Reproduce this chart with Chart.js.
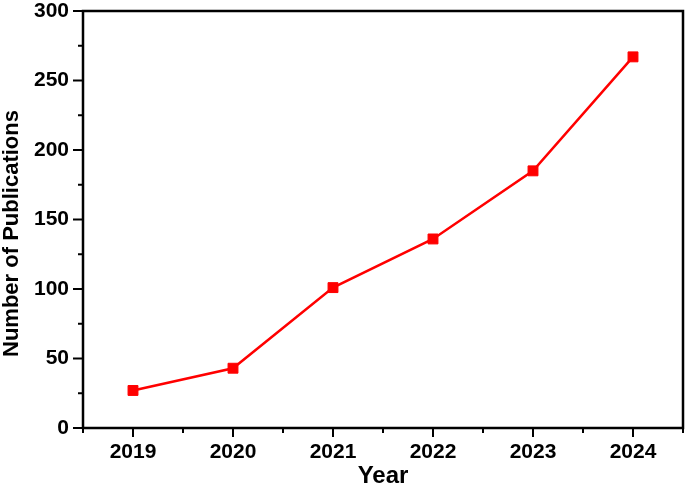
<!DOCTYPE html>
<html>
<head>
<meta charset="utf-8">
<script src="https://cdn.jsdelivr.net/npm/chart.js@4"></script>
<style>
html,body{margin:0;padding:0;background:#fff;}
#wrap{width:685px;height:486px;position:relative;}
</style>
</head>
<body>
<div id="wrap"><canvas id="c" width="685" height="486"></canvas></div>
<script>
const years = [2019, 2020, 2021, 2022, 2023, 2024];
const publications = [27, 43, 101, 136, 185, 267];
const yMajorTicks = [0, 50, 100, 150, 200, 250, 300];
const xTitle = 'Year';
const yTitle = 'Number of Publications';

const FONT = '"Liberation Sans", Arial, Helvetica, sans-serif';

const framePlugin = {
  id: 'frame',
  afterDraw(chart) {
    const ctx = chart.ctx;
    const a = chart.chartArea;
    const xs = chart.scales.x, ys = chart.scales.y;
    ctx.save();
    ctx.strokeStyle = '#000';
    ctx.lineWidth = 2.5;
    ctx.beginPath();
    ctx.rect(a.left, a.top, a.right - a.left, a.bottom - a.top);
    ctx.stroke();
    ctx.lineWidth = 2;
    ys.ticks.forEach(t => {
      const y = ys.getPixelForValue(t.value);
      const len = (t.value % 50 === 0) ? 10 : 5;
      ctx.beginPath();
      ctx.moveTo(a.left, y);
      ctx.lineTo(a.left - len, y);
      ctx.stroke();
    });
    xs.ticks.forEach(t => {
      const x = xs.getPixelForValue(t.value);
      const len = Number.isInteger(t.value) ? 9 : 5;
      ctx.beginPath();
      ctx.moveTo(x, a.bottom);
      ctx.lineTo(x, a.bottom + len);
      ctx.stroke();
    });
    ctx.fillStyle = '#000';
    ctx.font = 'bold 22px ' + FONT;
    ctx.textAlign = 'center';
    ctx.textBaseline = 'alphabetic';
    ctx.translate(17.5, 233.5);
    ctx.rotate(-Math.PI / 2);
    ctx.fillText(yTitle, 0, 0);
    ctx.restore();
  }
};

new Chart(document.getElementById('c'), {
  type: 'line',
  data: {
    datasets: [{
      data: years.map((yr, i) => ({x: yr, y: publications[i]})),
      borderColor: '#ff0000',
      backgroundColor: '#ff0000',
      borderWidth: 2.5,
      pointStyle: 'rect',
      pointRadius: 7,
      pointBorderWidth: 1,
      pointBackgroundColor: '#ff0000',
      pointBorderColor: '#ff0000',
      tension: 0
    }]
  },
  options: {
    responsive: false,
    animation: false,
    devicePixelRatio: 1,
    layout: {autoPadding: false, padding: {top: 11, right: 2, left: 0, bottom: 0}},
    plugins: {legend: {display: false}, tooltip: {enabled: false}},
    scales: {
      x: {
        type: 'linear',
        min: 2018.5,
        max: 2024.5,
        grid: {display: false, drawTicks: false},
        border: {display: false},
        afterFit(s) { s.height = 58; s.paddingLeft = 0; s.paddingRight = 0; },
        afterBuildTicks(s) {
          const t = [];
          for (let v = 2018.5; v <= 2024.5 + 1e-9; v += 0.5) t.push({value: v});
          s.ticks = t;
        },
        ticks: {
          autoSkip: false,
          maxRotation: 0,
          padding: 12,
          color: '#000',
          font: {family: FONT, size: 21, weight: 'bold'},
          callback: v => Number.isInteger(v) ? String(v) : ''
        },
        title: {
          display: true,
          text: xTitle,
          color: '#000',
          font: {family: FONT, size: 24, weight: 'bold', lineHeight: 0.8},
          padding: 0
        }
      },
      y: {
        type: 'linear',
        min: 0,
        max: 300,
        grid: {display: false, drawTicks: false},
        border: {display: false},
        afterFit(s) { s.width = 83; s.paddingTop = 0; s.paddingBottom = 0; },
        afterBuildTicks(s) {
          const t = [];
          for (let v = 0; v <= 300; v += 25) t.push({value: v});
          s.ticks = t;
        },
        ticks: {
          autoSkip: false,
          padding: 14,
          color: '#000',
          font: {family: FONT, size: 21, weight: 'bold'},
          callback: v => yMajorTicks.includes(v) ? String(v) : ''
        }
      }
    }
  },
  plugins: [framePlugin]
});
</script>
</body>
</html>
